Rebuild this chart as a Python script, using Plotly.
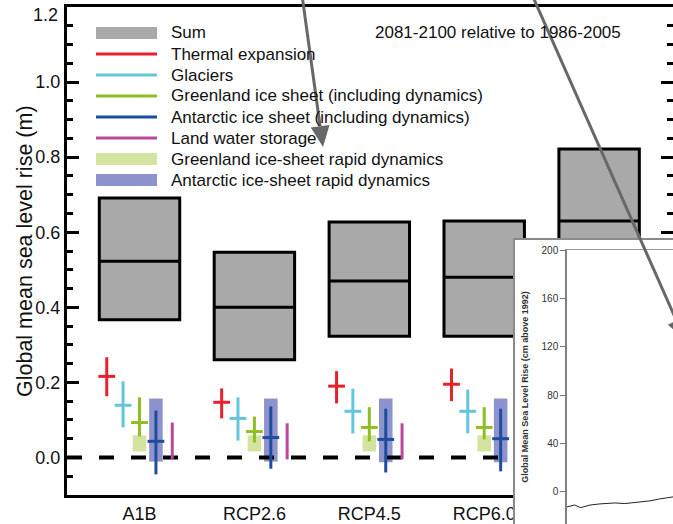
import plotly.graph_objects as go

# ---------------- data ----------------
scenarios = ["A1B", "RCP2.6", "RCP4.5", "RCP6.0", "RCP8.5"]
scen_pos = [1, 2, 3, 4, 5]

sum_med = [0.523, 0.400, 0.470, 0.480, 0.630]
sum_lo = [0.367, 0.260, 0.323, 0.323, 0.450]
sum_hi = [0.691, 0.547, 0.627, 0.630, 0.822]

thermal_med = [0.216, 0.147, 0.190, 0.195, 0.270]
thermal_lo = [0.163, 0.104, 0.144, 0.150, 0.210]
thermal_hi = [0.267, 0.184, 0.230, 0.237, 0.330]

glaciers_med = [0.139, 0.104, 0.123, 0.123, 0.160]
glaciers_lo = [0.080, 0.045, 0.064, 0.064, 0.090]
glaciers_hi = [0.203, 0.160, 0.183, 0.181, 0.230]

greenland_med = [0.093, 0.069, 0.080, 0.080, 0.120]
greenland_lo = [0.056, 0.040, 0.043, 0.048, 0.070]
greenland_hi = [0.160, 0.109, 0.134, 0.134, 0.210]

antarctic_med = [0.043, 0.053, 0.048, 0.050, 0.040]
antarctic_lo = [-0.045, -0.030, -0.040, -0.037, -0.060]
antarctic_hi = [0.125, 0.136, 0.130, 0.130, 0.120]

landwater_med = [0.040, 0.040, 0.040, 0.040, 0.040]
landwater_lo = [-0.005, -0.005, -0.005, -0.005, -0.010]
landwater_hi = [0.093, 0.091, 0.091, 0.090, 0.090]

green_rapid_lo = [0.016, 0.016, 0.016, 0.016, 0.020]
green_rapid_hi = [0.059, 0.059, 0.059, 0.059, 0.070]

ant_rapid_lo = [-0.011, -0.011, -0.013, -0.013, -0.010]
ant_rapid_hi = [0.157, 0.157, 0.157, 0.157, 0.160]

legend_labels = [
    "Sum", "Thermal expansion", "Glaciers",
    "Greenland ice sheet (including dynamics)",
    "Antarctic ice sheet (including dynamics)",
    "Land water storage",
    "Greenland ice-sheet rapid dynamics",
    "Antarctic ice-sheet rapid dynamics",
]
period_text = "2081-2100 relative to 1986-2005"
y_title = "Global mean sea level rise (m)"

y_ticks = [0.0, 0.2, 0.4, 0.6, 0.8, 1.0, 1.2]
y_ticktext = ["0.0", "0.2", "0.4", "0.6", "0.8", "1.0", ""]
top_label = "1.2"   # drawn just inside the frame, as in the original

# inset chart (observed/projected sea level curve, visible part only)
inset_years = [1900, 1902, 1904, 1907, 1909, 1912, 1917, 1925, 1930, 1938, 1943, 1948, 1951, 1955]
inset_cm = [-12.4, -11.5, -10.8, -13.0, -12.2, -10.8, -9.9, -9.1, -9.6, -8.3, -7.4, -5.8, -5.0, -4.1]
inset_ticks = [0, 40, 80, 120, 160, 200]
inset_title = "Global Mean Sea Level Rise (cm above 1992)"

# ---------------- styles ----------------
FONT = "Liberation Sans, Arial, Helvetica, sans-serif"
W, H = 673, 524
C_SUM = "#a9a9a9"
C_TH = "#e8202a"
C_GL = "#62c6dc"
C_GR = "#8fbe22"
C_AN = "#1f4d9e"
C_LW = "#b8489c"
C_GRR = "#d5e3a0"
C_ANR = "#8f93cd"
C_ARROW = "#686868"

off = {"th": -0.285, "gl": -0.143, "gr": 0.0, "an": 0.143, "lw": 0.285}

def px(v):
    return v / W

def py(v):
    return (H - v) / H

fig = go.Figure()

# Sum boxes
fig.add_trace(go.Bar(
    x=scen_pos, y=[h - l for h, l in zip(sum_hi, sum_lo)], base=sum_lo,
    width=0.70, marker=dict(color=C_SUM, line=dict(color="black", width=3)),
    showlegend=False, xaxis="x", yaxis="y"))
# medians
mx, my = [], []
for p, m in zip(scen_pos, sum_med):
    mx += [p - 0.35, p + 0.35, None]
    my += [m, m, None]
fig.add_trace(go.Scatter(x=mx, y=my, mode="lines", line=dict(color="black", width=3),
                         showlegend=False, xaxis="x", yaxis="y"))

# rapid dynamics boxes
fig.add_trace(go.Bar(
    x=[p + off["gr"] for p in scen_pos],
    y=[h - l for h, l in zip(green_rapid_hi, green_rapid_lo)], base=green_rapid_lo,
    width=0.118, marker=dict(color=C_GRR, line=dict(width=0)),
    showlegend=False, xaxis="x", yaxis="y"))
fig.add_trace(go.Bar(
    x=[p + off["an"] for p in scen_pos],
    y=[h - l for h, l in zip(ant_rapid_hi, ant_rapid_lo)], base=ant_rapid_lo,
    width=0.118, marker=dict(color=C_ANR, line=dict(width=0)),
    showlegend=False, xaxis="x", yaxis="y"))

# zero dashed line
fig.add_trace(go.Scatter(x=[0.369, 5.643], y=[0, 0], mode="lines",
                         line=dict(color="black", width=4, dash="15px,17px"),
                         showlegend=False, xaxis="x", yaxis="y"))

def comp(key, med, lo, hi, color, tick=True):
    fig.add_trace(go.Scatter(
        x=[p + off[key] for p in scen_pos], y=med, mode="markers",
        marker=dict(symbol="line-ew", size=12 if tick else 0,
                    line=dict(color=color, width=3 if tick else 0)),
        error_y=dict(type="data", symmetric=False,
                     array=[h - m for h, m in zip(hi, med)],
                     arrayminus=[m - l for m, l in zip(med, lo)],
                     color=color, thickness=3, width=0),
        showlegend=False, xaxis="x", yaxis="y"))

comp("th", thermal_med, thermal_lo, thermal_hi, C_TH)
comp("gl", glaciers_med, glaciers_lo, glaciers_hi, C_GL)
comp("gr", greenland_med, greenland_lo, greenland_hi, C_GR)
comp("an", antarctic_med, antarctic_lo, antarctic_hi, C_AN)
comp("lw", landwater_med, landwater_lo, landwater_hi, C_LW, tick=False)

# inset white panel (its own subplot so it covers the main chart)
fig.add_trace(go.Scatter(x=[], y=[], xaxis="x2", yaxis="y2", showlegend=False))
# inset curve
fig.add_trace(go.Scatter(x=inset_years, y=inset_cm, mode="lines",
                         line=dict(color="#222", width=1),
                         xaxis="x3", yaxis="y3", showlegend=False))

# ---------------- layout ----------------
shapes = []
annotations = []
row_y = [33, 54, 75, 96, 117, 138, 159, 180]
sw_kind = ["rect", "line", "line", "line", "line", "line", "rect", "rect"]
sw_col = [C_SUM, C_TH, C_GL, C_GR, C_AN, C_LW, C_GRR, C_ANR]
for lab, yy, kind, col in zip(legend_labels, row_y, sw_kind, sw_col):
    if kind == "rect":
        shapes.append(dict(type="rect", xref="paper", yref="paper",
                           x0=px(96), x1=px(157), y0=py(yy + 6), y1=py(yy - 6),
                           fillcolor=col, line=dict(width=0), layer="above"))
    else:
        shapes.append(dict(type="line", xref="paper", yref="paper",
                           x0=px(96), x1=px(157), y0=py(yy), y1=py(yy),
                           line=dict(color=col, width=3), layer="above"))
    annotations.append(dict(text=lab, xref="paper", yref="paper", x=px(169), y=py(yy),
                            xanchor="left", yanchor="middle", showarrow=False,
                            font=dict(family=FONT, size=17, color="#111")))

annotations.append(dict(text=period_text, xref="paper", yref="paper", x=px(373), y=py(33),
                        xanchor="left", yanchor="middle", showarrow=False,
                        font=dict(family=FONT, size=17, color="#111")))
annotations.append(dict(text=top_label, xref="paper", yref="paper", x=px(60), y=py(15),
                        xanchor="right", yanchor="middle", showarrow=False,
                        font=dict(family=FONT, size=18, color="#111")))
annotations.append(dict(text=y_title, xref="paper", yref="paper", x=px(25), y=py(251),
                        xanchor="center", yanchor="middle", textangle=-90, showarrow=False,
                        font=dict(family=FONT, size=21.5, color="#111")))

# arrows (decorative overlay): shaft + triangular head
def arrow(tail, tip, head_len=21.0, half_w=9.5):
    import math
    dx, dy = tip[0] - tail[0], tip[1] - tail[1]
    L = math.hypot(dx, dy)
    ux, uy = dx / L, dy / L
    nx, ny = uy, -ux
    bx, by = tip[0] - head_len * ux, tip[1] - head_len * uy
    shapes.append(dict(type="line", xref="paper", yref="paper",
                       x0=px(tail[0]), y0=py(tail[1]), x1=px(bx), y1=py(by),
                       line=dict(color=C_ARROW, width=3), layer="above"))
    p1 = (bx + half_w * nx, by + half_w * ny)
    p2 = (bx - half_w * nx, by - half_w * ny)
    path = "M {:.5f},{:.5f} L {:.5f},{:.5f} L {:.5f},{:.5f} Z".format(
        px(tip[0]), py(tip[1]), px(p1[0]), py(p1[1]), px(p2[0]), py(p2[1]))
    shapes.append(dict(type="path", xref="paper", yref="paper", path=path,
                       fillcolor=C_ARROW, line=dict(width=0), layer="above"))

arrow((302, -5), (323, 147))
arrow((533, -3), (685, 340))

fig.update_layout(
    width=W, height=H, margin=dict(l=0, r=0, t=0, b=0, autoexpand=False),
    paper_bgcolor="white", plot_bgcolor="white",
    barmode="overlay", showlegend=False,
    font=dict(family=FONT, color="#111"),
    xaxis=dict(domain=[px(67), 1.0], range=[0.369, 5.643], anchor="y",
               tickvals=scen_pos, ticktext=scenarios, ticks="",
               showline=True, linecolor="black", linewidth=3, mirror=True,
               showgrid=False, zeroline=False, tickfont=dict(size=18, family=FONT)),
    yaxis=dict(domain=[py(495), py(7)], range=[-0.1, 1.2], anchor="x",
               tickvals=y_ticks, ticktext=y_ticktext, ticks="inside", ticklen=12, tickwidth=3,
               tickcolor="black", showline=True, linecolor="black", linewidth=3,
               mirror="ticks", showgrid=False, zeroline=False,
               minor=dict(dtick=0.05, tick0=0, ticks="inside", ticklen=6, tickwidth=2.5,
                          tickcolor="black", showgrid=False),
               tickfont=dict(size=18, family=FONT)),
    xaxis2=dict(domain=[px(515), 1.0], range=[0, 1], anchor="y2", side="top",
                showline=True, linecolor="#8a8a8a", linewidth=1.5,
                showticklabels=False, ticks="", showgrid=False, zeroline=False),
    yaxis2=dict(domain=[0, py(240)], range=[0, 1], anchor="x2",
                showline=True, linecolor="#8a8a8a", linewidth=1.5,
                showticklabels=False, ticks="", showgrid=False, zeroline=False),
    xaxis3=dict(domain=[px(567), 1.0], range=[1900, 1955], anchor="y3", side="top",
                showline=True, linecolor="#9a9a9a", linewidth=1,
                showticklabels=False, ticks="", showgrid=False, zeroline=False),
    yaxis3=dict(domain=[0, py(250)], range=[-26.5, 200], anchor="x3",
                tickvals=inset_ticks, ticks="outside", ticklen=5, tickwidth=1,
                tickcolor="#777", showline=True, linecolor="#808080", linewidth=1.5,
                showgrid=False, zeroline=False, ticklabeloverflow="allow",
                tickfont=dict(size=10, family=FONT, color="#333"),
                title=dict(text="<b>" + inset_title + "</b>", standoff=11,
                           font=dict(size=9, family=FONT, color="#333"))),
    shapes=shapes, annotations=annotations,
)

fig.write_html("out.html", config={"displayModeBar": False},
               post_script="document.body.style.margin='0px';document.body.style.padding='0px';")
